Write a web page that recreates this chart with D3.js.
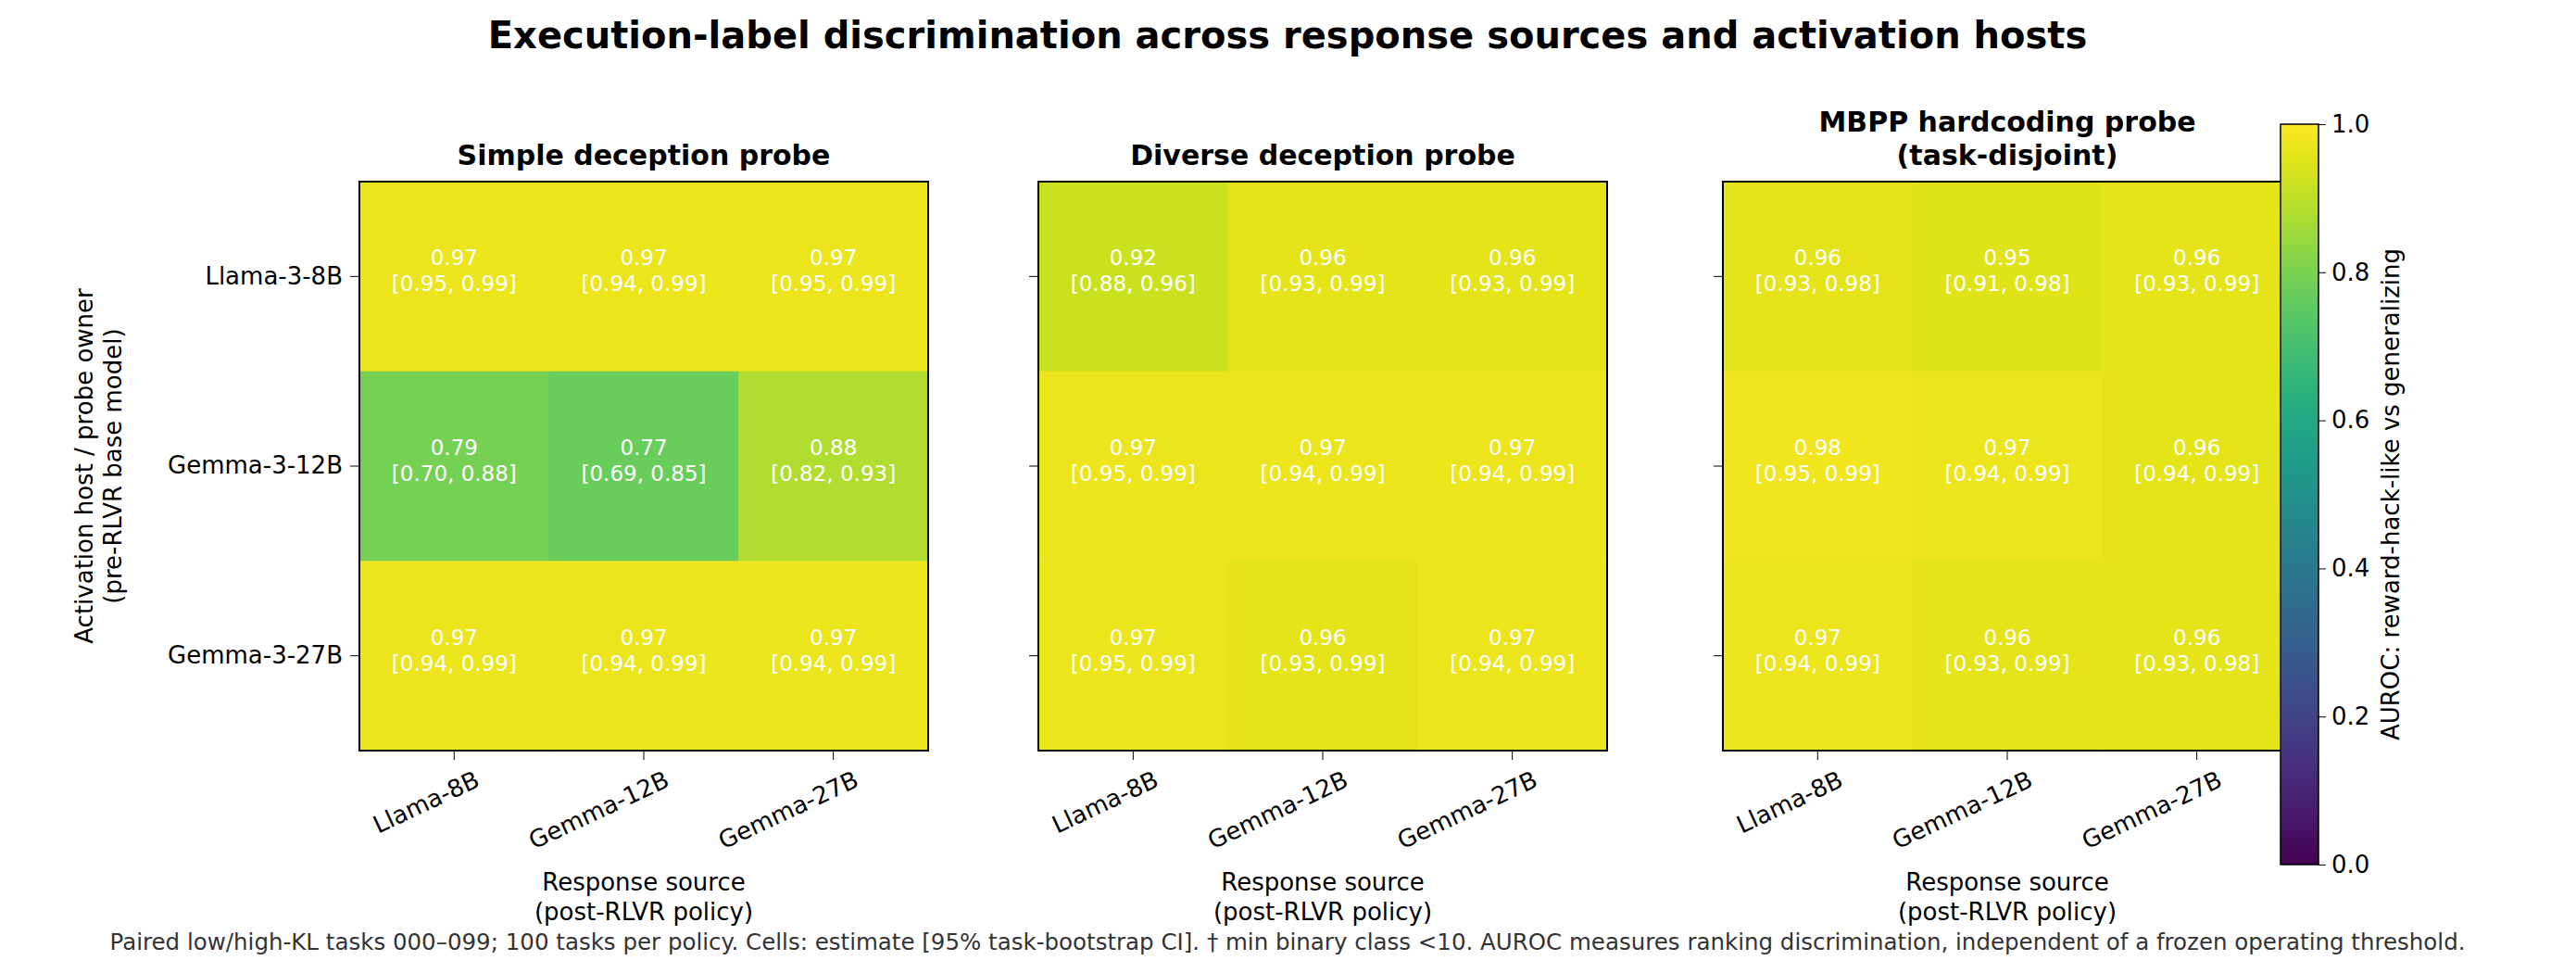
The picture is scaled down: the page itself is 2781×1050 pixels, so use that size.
<!DOCTYPE html>
<html><head><meta charset="utf-8">
<script src="https://cdn.jsdelivr.net/npm/d3@7"></script>
<style>body{margin:0;background:#fff;} text{font-family:"DejaVu Sans",sans-serif;}</style>
</head><body><svg id="c" width="2781" height="1050"></svg>
<script>
'use strict';
var sources = ['Llama-8B', 'Gemma-12B', 'Gemma-27B'];
var hosts = ['Llama-3-8B', 'Gemma-3-12B', 'Gemma-3-27B'];
var panelTitles = [['Simple deception probe'], ['Diverse deception probe'], ['MBPP hardcoding probe', '(task-disjoint)']];
// rows = hosts, cols = sources; [est, lo, hi]
var simple = [
    [[0.97,0.95,0.99],[0.97,0.94,0.99],[0.97,0.95,0.99]],
    [[0.79,0.70,0.88],[0.77,0.69,0.85],[0.88,0.82,0.93]],
    [[0.97,0.94,0.99],[0.97,0.94,0.99],[0.97,0.94,0.99]]];
var diverse = [
    [[0.92,0.88,0.96],[0.96,0.93,0.99],[0.96,0.93,0.99]],
    [[0.97,0.95,0.99],[0.97,0.94,0.99],[0.97,0.94,0.99]],
    [[0.97,0.95,0.99],[0.96,0.93,0.99],[0.97,0.94,0.99]]];
var mbpp = [
    [[0.96,0.93,0.98],[0.95,0.91,0.98],[0.96,0.93,0.99]],
    [[0.98,0.95,0.99],[0.97,0.94,0.99],[0.96,0.94,0.99]],
    [[0.97,0.94,0.99],[0.96,0.93,0.99],[0.96,0.93,0.98]]];
var cbTicks = [0, 0.2, 0.4, 0.6, 0.8, 1.0];

var svg = d3.select('#c');
var color = d3.scaleSequential(d3.interpolateViridis).domain([0, 1]);
var panelX = [388, 1121, 1860], panelTop = 196, size = 614;
var f = function(v) { return v.toFixed(2); };

svg.append('text').attr('x', 1390).attr('y', 52).attr('text-anchor', 'middle')
    .style('font-size', '40px').style('font-weight', 'bold').text('Execution-label discrimination across response sources and activation hosts');

[simple, diverse, mbpp].forEach(function(data, p) {
    var g = svg.append('g').attr('transform', 'translate(' + panelX[p] + ',' + panelTop + ')');
    var x = d3.scaleBand().domain(sources).range([0, size]);
    var y = d3.scaleBand().domain(hosts).range([0, size]);
    var cells = [];
    data.forEach(function(row, i) { row.forEach(function(d, j) { cells.push({h: hosts[i], s: sources[j], v: d}); }); });
    g.selectAll('rect.cell').data(cells).enter().append('rect')
        .attr('x', function(d) { return x(d.s); }).attr('y', function(d) { return y(d.h); })
        .attr('width', x.bandwidth() + 0.5).attr('height', y.bandwidth() + 0.5)
        .attr('fill', function(d) { return color(d.v[0]); });
    var t = g.selectAll('text.cell').data(cells).enter().append('text')
        .attr('text-anchor', 'middle').attr('fill', '#fff').style('font-size', '23px')
        .attr('transform', function(d) { return 'translate(' + (x(d.s) + x.bandwidth() / 2) + ',' + (y(d.h) + y.bandwidth() / 2) + ')'; });
    t.append('tspan').attr('x', 0).attr('y', -12).text(function(d) { return f(d.v[0]); });
    t.append('tspan').attr('x', 0).attr('y', 16).text(function(d) { return '[' + f(d.v[1]) + ', ' + f(d.v[2]) + ']'; });
    g.append('rect').attr('width', size).attr('height', size).attr('fill', 'none').attr('stroke', '#000').attr('stroke-width', 2);

    var xa = g.append('g').attr('transform', 'translate(0,' + size + ')')
        .call(d3.axisBottom(x).tickSize(10).tickPadding(8));
    xa.select('.domain').remove();
    xa.selectAll('text').style('font-size', '26px').attr('text-anchor', 'end')
        .attr('transform', 'rotate(-25)').attr('dx', '0.4em').attr('dy', '1.1em');
    var ya = g.append('g').call(d3.axisLeft(y).tickSize(10).tickPadding(8));
    ya.select('.domain').remove();
    ya.selectAll('text').style('font-size', '26px');
    if (p > 0) ya.selectAll('text').remove();

    var tt = g.append('text').attr('text-anchor', 'middle').style('font-size', '30px').style('font-weight', 'bold');
    panelTitles[p].forEach(function(s, k, arr) {
        tt.append('tspan').attr('x', size / 2).attr('y', -18 - (arr.length - 1 - k) * 36).text(s);
    });
    var xl = g.append('text').attr('text-anchor', 'middle').style('font-size', '26px');
    xl.append('tspan').attr('x', size / 2).attr('y', 765).text('Response source');
    xl.append('tspan').attr('x', size / 2).attr('y', 797).text('(post-RLVR policy)');
    if (p === 0) {
        var yl = g.append('text').attr('text-anchor', 'middle').style('font-size', '26px')
            .attr('transform', 'translate(-288,' + size / 2 + ') rotate(-90)');
        yl.append('tspan').attr('x', 0).attr('y', 0).text('Activation host / probe owner');
        yl.append('tspan').attr('x', 0).attr('y', 31).text('(pre-RLVR base model)');
    }
});

// colorbar
var cbX = 2462, cbW = 41, cbTop = 134, cbBot = 933;
var defs = svg.append('defs');
var grad = defs.append('linearGradient').attr('id', 'vir').attr('x1', 0).attr('y1', 1).attr('x2', 0).attr('y2', 0);
d3.range(0, 1.001, 0.05).forEach(function(s) {
    grad.append('stop').attr('offset', s).attr('stop-color', color(s));
});
svg.append('rect').attr('x', cbX).attr('y', cbTop).attr('width', cbW).attr('height', cbBot - cbTop)
    .attr('fill', 'url(#vir)').attr('stroke', '#000').attr('stroke-width', 1.5);
var cy = d3.scaleLinear().domain([0, 1]).range([cbBot, cbTop]);
var ca = svg.append('g').attr('transform', 'translate(' + (cbX + cbW) + ',0)')
    .call(d3.axisRight(cy).tickValues(cbTicks).tickFormat(d3.format('.1f')).tickSize(8).tickPadding(6));
ca.select('.domain').remove();
ca.selectAll('text').style('font-size', '26px');
svg.append('text').attr('transform', 'translate(2590,' + (cbTop + cbBot) / 2 + ') rotate(-90)')
    .attr('text-anchor', 'middle').style('font-size', '26px').text('AUROC: reward-hack-like vs generalizing');

svg.append('text').attr('x', 1390).attr('y', 1025).attr('text-anchor', 'middle').attr('fill', '#333')
    .style('font-size', '24.5px')
    .text('Paired low/high-KL tasks 000\u2013099; 100 tasks per policy. Cells: estimate [95% task-bootstrap CI]. \u2020 min binary class <10. AUROC measures ranking discrimination, independent of a frozen operating threshold.');
</script></body></html>
